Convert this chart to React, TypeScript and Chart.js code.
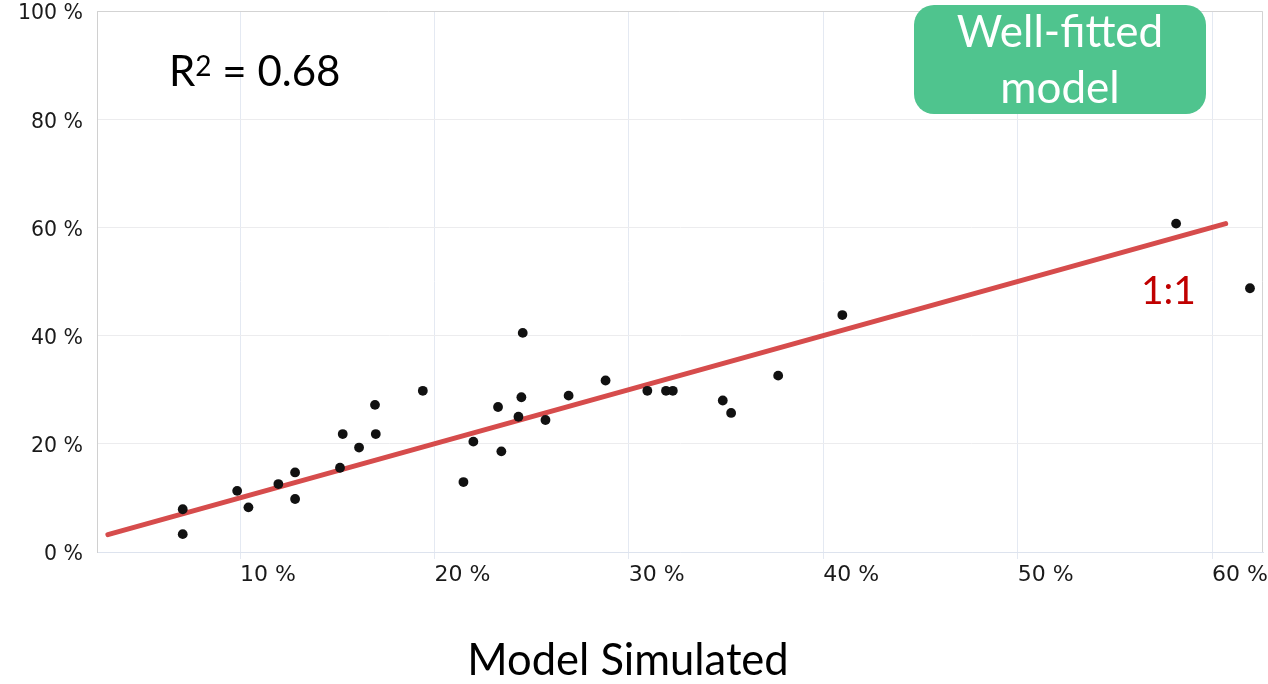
import React, { useEffect, useRef } from "react";
import { Chart, registerables } from "chart.js";

Chart.register(...registerables);

// Model simulated (x, %) vs observed (y, %)
const simulated = [7.05, 7.05, 9.85, 10.43, 11.97, 12.83, 12.83, 15.14, 15.28, 16.12, 16.98, 16.94, 19.4, 21.49, 22.0, 23.27, 23.44, 24.32, 24.47, 24.54, 25.71, 26.9, 28.8, 30.95, 31.91, 32.26, 34.83, 35.26, 37.68, 40.98, 58.15, 61.95];
const observed = [7.9, 3.3, 11.3, 8.25, 12.56, 14.7, 9.8, 15.57, 21.8, 19.3, 21.8, 27.2, 29.8, 12.93, 20.4, 26.8, 18.6, 25.0, 28.6, 40.5, 24.4, 28.9, 31.7, 29.8, 29.8, 29.8, 28.0, 25.7, 32.6, 43.8, 60.7, 48.75];
const oneToOneX = [3.2, 60.7];
const oneToOneY = [3.2, 60.7];
const xTicks = [10, 20, 30, 40, 50, 60];
const yTicks = [0, 20, 40, 60, 80, 100];
const xMin = 2.64;
const xMax = 62.62;
const yMin = 0;
const yMax = 100;

const framePlugin = {
  id: "frame",
  beforeDatasetsDraw(chart: any) {
    const { ctx, chartArea: a } = chart;
    ctx.save();
    ctx.strokeStyle = "#d3d3d3";
    ctx.lineWidth = 1;
    ctx.beginPath();
    ctx.moveTo(a.left, Math.round(a.top) + 0.5);
    ctx.lineTo(Math.round(a.right) - 0.5, Math.round(a.top) + 0.5);
    ctx.lineTo(Math.round(a.right) - 0.5, a.bottom);
    ctx.stroke();
    ctx.restore();
  },
};

export default function App() {
  const ref = useRef<HTMLCanvasElement>(null);

  useEffect(() => {
    const points = simulated.map((x, i) => ({ x, y: observed[i] }));
    const line = oneToOneX.map((x, i) => ({ x, y: oneToOneY[i] }));
    const chart = new Chart(ref.current as HTMLCanvasElement, {
      type: "scatter",
      data: {
        datasets: [
          {
            label: "Observed vs simulated",
            data: points,
            backgroundColor: "#111111",
            borderWidth: 0,
            pointRadius: 4.9,
            order: 1,
          },
          {
            type: "line",
            label: "1:1",
            data: line,
            borderColor: "#d64c4c",
            borderWidth: 5,
            borderCapStyle: "round",
            pointRadius: 0,
            fill: false,
            order: 2,
          } as any,
        ],
      },
      options: {
        responsive: false,
        animation: false,
        layout: { padding: { left: 0, right: 5, top: 11, bottom: 0 } },
        plugins: { legend: { display: false }, tooltip: { enabled: false } },
        scales: {
          x: {
            type: "linear",
            min: xMin,
            max: xMax,
            afterBuildTicks: (s: any) => {
              s.ticks = xTicks.map((v) => ({ value: v }));
            },
            afterFit: (s: any) => {
              s.height = 132;
              s.paddingLeft = 0;
              s.paddingRight = 0;
            },
            ticks: {
              align: "start",
              padding: 3,
              color: "#1a1a1a",
              font: { family: "'DejaVu Sans'", size: 22 },
              callback: (v: any) => v + " %",
            },
            grid: { color: "#e4e9f2", tickLength: 7, drawTicks: true },
            border: { color: "#dde3ee" },
          },
          y: {
            type: "linear",
            min: yMin,
            max: yMax,
            afterBuildTicks: (s: any) => {
              s.ticks = yTicks.map((v) => ({ value: v }));
            },
            afterFit: (s: any) => {
              s.width = 97;
              s.paddingTop = 0;
              s.paddingBottom = 0;
            },
            ticks: {
              padding: 14,
              labelOffset: 3,
              color: "#1a1a1a",
              font: { family: "'DejaVu Sans'", size: 20.5 },
              callback: (v: any) => v + " %",
            },
            grid: { color: "#ececee", drawTicks: false },
            border: { color: "#d0d0d0" },
          },
        },
      },
      plugins: [framePlugin],
    });
    return () => chart.destroy();
  }, []);

  const lato = "Lato, 'Open Sans', sans-serif";

  return (
    <div style={{ position: "fixed", left: 0, top: 0, width: 1268, height: 684, background: "#fff", overflow: "hidden" }}>
      <canvas ref={ref} width={1268} height={684} style={{ position: "absolute", left: 0, top: 0 }} />
      <div style={{ position: "absolute", left: 169, top: 49, fontFamily: lato, fontSize: 42, lineHeight: "42px", color: "#000", whiteSpace: "nowrap" }}>
        R<sup style={{ fontSize: 28, verticalAlign: "top", position: "relative", top: -5 }}>2</sup> = 0.68
      </div>
      <div
        style={{
          position: "absolute",
          left: 914,
          top: 5,
          width: 292,
          height: 109,
          borderRadius: 20,
          background: "#4fc48e",
          color: "#fff",
          fontFamily: lato,
          fontSize: 44,
          lineHeight: "56px",
          textAlign: "center",
        }}
      >
        <div style={{ marginTop: -3 }}>
          Well-fitted
          <br />
          model
        </div>
      </div>
      <div style={{ position: "absolute", left: 1141, top: 270, fontFamily: lato, fontSize: 39, lineHeight: "39px", color: "#c00000", whiteSpace: "nowrap" }}>
        1:1
      </div>
      <div style={{ position: "absolute", left: 428, width: 400, top: 637, textAlign: "center", fontFamily: lato, fontSize: 43.5, lineHeight: "43.5px", color: "#000", whiteSpace: "nowrap" }}>
        Model Simulated
      </div>
    </div>
  );
}
